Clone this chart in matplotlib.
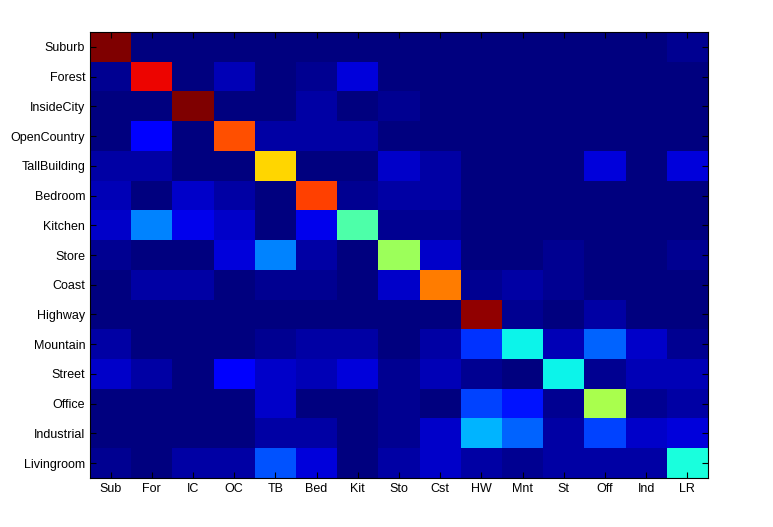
import numpy as np
import matplotlib
matplotlib.use("Agg")
import matplotlib.pyplot as plt

plt.rcParams['font.family'] = ['Liberation Sans', 'DejaVu Sans']

# class names (rows = true, cols = predicted)
row_labels = ["Suburb", "Forest", "InsideCity", "OpenCountry", "TallBuilding",
              "Bedroom", "Kitchen", "Store", "Coast", "Highway", "Mountain",
              "Street", "Office", "Industrial", "Livingroom"]
col_labels = ["Sub", "For", "IC", "OC", "TB", "Bed", "Kit", "Sto", "Cst",
              "HW", "Mnt", "St", "Off", "Ind", "LR"]

# confusion matrix values (estimated from colours)
conf = np.array([
    [0.99, 0.01, 0.01, 0.01, 0.01, 0.01, 0.01, 0.01, 0.01, 0.01, 0.01, 0.01, 0.01, 0.01, 0.025],
    [0.03, 0.90, 0.01, 0.06, 0.01, 0.03, 0.08, 0.01, 0.01, 0.01, 0.01, 0.01, 0.01, 0.01, 0.01],
    [0.01, 0.01, 1.00, 0.01, 0.01, 0.035, 0.015, 0.03, 0.01, 0.01, 0.01, 0.01, 0.01, 0.01, 0.01],
    [0.01, 0.11, 0.01, 0.82, 0.04, 0.04, 0.04, 0.01, 0.01, 0.01, 0.01, 0.01, 0.01, 0.01, 0.01],
    [0.04, 0.035, 0.01, 0.01, 0.675, 0.01, 0.01, 0.07, 0.04, 0.01, 0.01, 0.01, 0.08, 0.01, 0.08],
    [0.06, 0.0, 0.07, 0.035, 0.01, 0.835, 0.03, 0.045, 0.035, 0.01, 0.01, 0.01, 0.01, 0.01, 0.01],
    [0.065, 0.25, 0.10, 0.07, 0.01, 0.10, 0.445, 0.03, 0.02, 0.01, 0.01, 0.01, 0.01, 0.01, 0.01],
    [0.03, 0.015, 0.015, 0.085, 0.26, 0.035, 0.01, 0.545, 0.075, 0.01, 0.01, 0.03, 0.01, 0.01, 0.025],
    [0.01, 0.035, 0.035, 0.01, 0.025, 0.025, 0.01, 0.07, 0.775, 0.02, 0.045, 0.03, 0.01, 0.01, 0.01],
    [0.01, 0.01, 0.01, 0.01, 0.01, 0.01, 0.01, 0.01, 0.01, 0.976, 0.02, 0.01, 0.045, 0.01, 0.01],
    [0.035, 0.01, 0.01, 0.01, 0.02, 0.04, 0.04, 0.01, 0.035, 0.185, 0.37, 0.055, 0.22, 0.075, 0.02],
    [0.075, 0.045, 0.01, 0.11, 0.075, 0.05, 0.08, 0.03, 0.05, 0.03, 0.01, 0.36, 0.03, 0.05, 0.06],
    [0.01, 0.01, 0.01, 0.01, 0.075, 0.01, 0.01, 0.03, 0.0, 0.19, 0.155, 0.03, 0.56, 0.03, 0.035],
    [0.01, 0.01, 0.01, 0.01, 0.035, 0.035, 0.01, 0.03, 0.075, 0.30, 0.23, 0.035, 0.20, 0.07, 0.08],
    [0.03, 0.015, 0.045, 0.045, 0.21, 0.09, 0.01, 0.04, 0.075, 0.04, 0.03, 0.04, 0.04, 0.035, 0.39],
])

fig = plt.figure(figsize=(7.73, 5.27), dpi=100)
ax = fig.add_axes([90/773, 1 - 478/527, (708 - 90)/773, (478 - 32)/527])
ax.imshow(conf, cmap=plt.get_cmap('jet', 64), vmin=0, vmax=1,
          aspect='auto', interpolation='nearest')

ax.set_xticks(np.arange(len(col_labels)))
ax.set_xticklabels(col_labels, fontsize=9)
ax.set_yticks(np.arange(len(row_labels)))
ax.set_yticklabels(row_labels, fontsize=9)
ax.tick_params(direction='in', length=4, width=0.8, top=True, right=True,
               labeltop=False, labelright=False)
for s in ax.spines.values():
    s.set_linewidth(0.8)

fig.savefig("out.png", dpi=100)
